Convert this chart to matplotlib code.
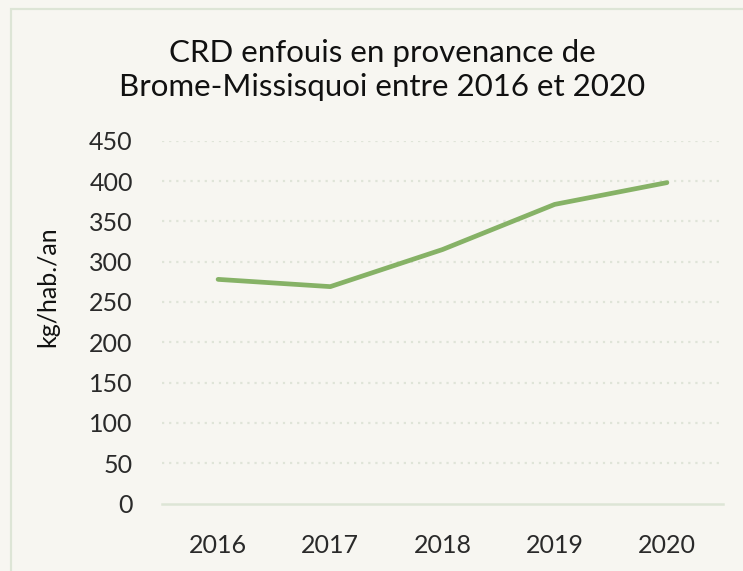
import matplotlib
matplotlib.use("Agg")
import matplotlib.pyplot as plt
from matplotlib.patches import Rectangle
from matplotlib import font_manager

years = ["2016", "2017", "2018", "2019", "2020"]
kg_per_capita = [278, 269, 315, 371, 398]
y_ticks = [0, 50, 100, 150, 200, 250, 300, 350, 400, 450]

title = "CRD enfouis en provenance de\nBrome-Missisquoi entre 2016 et 2020"
y_label = "kg/hab./an"

bg = "#f7f6f1"
line_color = "#86b266"
grid_color = "#dfe4d8"
frame_color = "#dde5d6"

names = {f.name for f in font_manager.fontManager.ttflist}
family = "Lato" if "Lato" in names else "DejaVu Sans"
plt.rcParams["font.family"] = family

W, H = 743, 571
fig = plt.figure(figsize=(W / 100, H / 100), dpi=100, facecolor=bg)

# outer frame of the chart area
fig.patches.append(Rectangle((11 / W, -0.1), 1.2, 1 - 9 / H + 0.1,
                             transform=fig.transFigure, fill=False,
                             edgecolor=frame_color, linewidth=1.6))

ax = fig.add_axes([162 / W, 1 - 503.5 / H, 561 / W, (503.5 - 140.7) / H])
ax.set_facecolor(bg)

x = list(range(len(years)))
ax.plot(x, kg_per_capita, color=line_color, linewidth=3.4,
        solid_capstyle="round", solid_joinstyle="round", zorder=3)

ax.set_xlim(-0.5, len(years) - 0.5)
ax.set_ylim(0, 450)
ax.set_yticks(y_ticks)
ax.set_xticks(x)
ax.set_xticklabels(years)

for v in y_ticks[1:]:
    ax.axhline(v, color=grid_color, linewidth=1.6, linestyle=(0, (1, 2.2)), zorder=1)

for side in ("top", "right", "left"):
    ax.spines[side].set_visible(False)
ax.spines["bottom"].set_color(frame_color)
ax.spines["bottom"].set_linewidth(1.8)

ax.tick_params(axis="both", length=0, labelsize=18, colors="#2a2a2a")
ax.tick_params(axis="y", pad=21)
ax.tick_params(axis="x", pad=22)

fig.text(382 / W, 1 - 70 / H, title, ha="center", va="center",
         fontsize=22.5, color="#111111", linespacing=1.3)
fig.text(48 / W, 1 - 287 / H, y_label, ha="center", va="center",
         rotation=90, fontsize=18, color="#111111")

fig.savefig("out.png", dpi=100, facecolor=bg)
